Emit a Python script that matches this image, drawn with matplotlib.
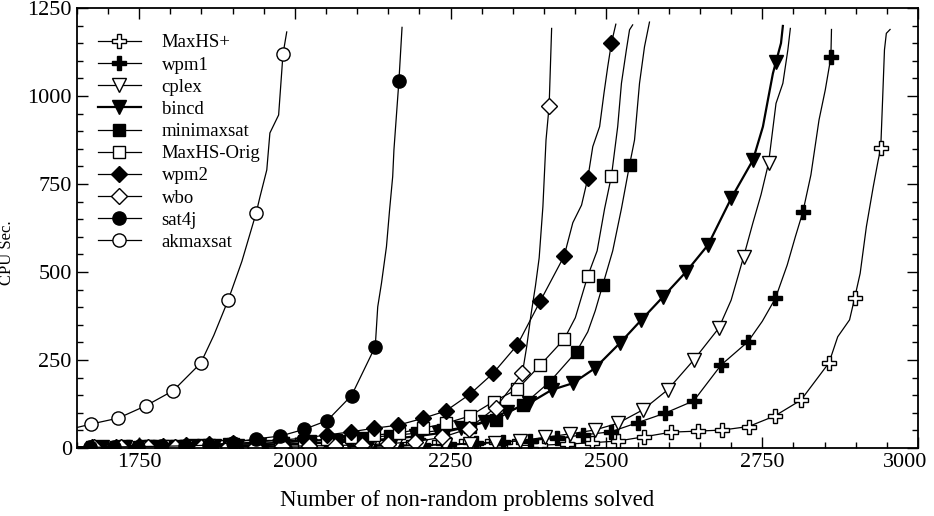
import matplotlib
matplotlib.use("Agg")
from matplotlib import pyplot as plt
from matplotlib.ticker import MultipleLocator, FixedLocator, FixedFormatter
import numpy as np

plt.rcParams['font.family'] = ['Liberation Serif', 'DejaVu Serif']

# ---- data (marker points + extra line points) ----
maxhsp_mx = [1671, 1714, 1756, 1799, 1841, 1884, 1926, 1969, 2011, 2054, 2096, 2139, 2181, 2224,
             2266, 2309, 2351, 2394, 2437, 2477, 2519, 2561, 2604, 2647, 2686, 2728, 2770, 2812,
             2857, 2898, 2940]
maxhsp_my = [0.5, 0.5, 1, 1, 1, 1, 1, 1, 2, 2, 2, 3, 3, 4, 5, 6, 7, 8, 11, 15, 20, 32, 45, 48, 51,
             61, 91, 136, 242, 425, 851]
maxhsp_lx = [1650, 2871, 2890, 2907, 2917, 2928, 2936, 2943, 2946, 2949, 2955]
maxhsp_ly = [0.5, 316, 364, 496, 629, 742, 818, 989, 1131, 1178, 1189]

wpm1_mx = [1689, 1732, 1775, 1818, 1861, 1904, 1947, 1990, 2033, 2076, 2119, 2162, 2205, 2248,
           2291, 2334, 2377, 2421, 2462, 2507, 2550, 2594, 2640, 2684, 2727, 2771, 2815, 2860]
wpm1_my = [1, 2, 2, 2, 3, 3, 4, 4, 5, 6, 7, 8, 9, 11, 14, 18, 21, 28, 37, 46, 72, 99, 134, 236,
           302, 425, 670, 1110]
wpm1_lx = [1650, 2750, 2790, 2803, 2828, 2841, 2851, 2861]
wpm1_ly = [1, 360, 520, 600, 776, 932, 1017, 1189]

cplex_mx = [1681, 1721, 1761, 1801, 1841, 1881, 1921, 1961, 2001, 2041, 2081, 2121, 2161, 2201,
            2241, 2281, 2321, 2361, 2401, 2441, 2481, 2518, 2558, 2598, 2640, 2680, 2720, 2760]
cplex_my = [1, 1, 1, 1, 1, 2, 2, 2, 3, 3, 4, 5, 6, 7, 9, 11, 15, 21, 30, 40, 51, 70, 108, 165,
            250, 340, 543, 809]
cplex_lx = [1650, 2700, 2735, 2748, 2766, 2772, 2783, 2791, 2795]
cplex_ly = [1, 420, 640, 720, 894, 979, 1036, 1131, 1192]

bincd_mx = [1691, 1727, 1763, 1799, 1835, 1871, 1907, 1943, 1979, 2015, 2051, 2087, 2123, 2159,
            2195, 2231, 2267, 2305, 2340, 2376, 2412, 2446, 2481, 2521, 2556, 2591, 2628, 2663,
            2700, 2735, 2772]
bincd_my = [2, 3, 3, 4, 5, 6, 7, 8, 10, 12, 15, 18, 22, 27, 33, 42, 56, 75, 103, 127, 165, 184,
            226, 297, 364, 430, 501, 577, 709, 818, 1097]
bincd_lx = [1650, 2751, 2759, 2767, 2780, 2783]
bincd_ly = [2, 913, 989, 1064, 1150, 1199]

minimax_mx = [1681, 1724, 1767, 1809, 1852, 1895, 1938, 1981, 2024, 2066, 2109, 2152, 2196, 2238,
              2281, 2322, 2366, 2409, 2452, 2494, 2537]
minimax_my = [3, 4, 5, 6, 8, 10, 12, 15, 19, 23, 28, 35, 42, 51, 61, 80, 122, 188, 274, 463, 804]
minimax_lx = [1650, 2470, 2482, 2510, 2524, 2545, 2553, 2561, 2569]
minimax_ly = [3, 330, 390, 560, 680, 875, 1036, 1140, 1210]

orig_mx = [1675, 1713, 1750, 1788, 1826, 1863, 1901, 1939, 1976, 2014, 2052, 2090, 2127, 2167,
           2205, 2242, 2281, 2319, 2357, 2394, 2432, 2470, 2508]
orig_my = [2, 3, 4, 5, 7, 9, 11, 13, 16, 20, 25, 32, 37, 42, 56, 70, 91, 132, 167, 236, 309, 489,
           773]
orig_lx = [1650, 2450, 2485, 2497, 2518, 2524, 2532, 2537, 2542]
orig_ly = [2, 370, 560, 680, 913, 1036, 1132, 1188, 1202]

wpm2_mx = [1675, 1713, 1750, 1788, 1826, 1863, 1901, 1939, 1976, 2014, 2052, 2090, 2127, 2166,
           2205, 2242, 2281, 2318, 2357, 2394, 2432, 2470, 2508]
wpm2_my = [3, 4, 5, 6, 8, 10, 13, 17, 22, 28, 37, 46, 56, 65, 84, 105, 153, 212, 293, 418, 545,
           766, 1151]
wpm2_lx = [1650, 2446, 2460, 2478, 2489, 2496, 2502, 2515]
wpm2_ly = [3, 640, 690, 856, 913, 1008, 1083, 1204]

wbo_mx = [1678, 1721, 1764, 1807, 1850, 1893, 1936, 1979, 2022, 2064, 2107, 2150, 2193, 2236,
          2279, 2322, 2365, 2408]
wbo_my = [2, 2, 3, 3, 3, 4, 4, 5, 6, 7, 9, 12, 18, 30, 55, 115, 212, 972]
wbo_lx = [1650, 2372, 2379, 2386, 2392, 2398, 2403, 2412]
wbo_ly = [2, 288, 380, 460, 540, 686, 875, 1192]

sat4j_mx = [1671, 1710, 1748, 1785, 1824, 1862, 1900, 1938, 1977, 2015, 2052, 2091, 2129, 2167]
sat4j_my = [2, 3, 4, 5, 6, 8, 15, 26, 34, 53, 78, 149, 288, 1043]
sat4j_lx = [1650, 2133, 2139, 2147, 2152, 2157, 2159, 2172]
sat4j_ly = [2, 401, 468, 572, 676, 771, 847, 1195]

akmax_mx = [1673, 1717, 1761, 1805, 1849, 1893, 1938, 1981]
akmax_my = [68, 85, 120, 163, 241, 420, 668, 1119]
akmax_lx = [1650, 1870, 1915, 1944, 1955, 1960, 1974, 1987]
akmax_ly = [58, 320, 530, 713, 790, 895, 946, 1182]

labels = ["MaxHS+", "wpm1", "cplex", "bincd", "minimaxsat", "MaxHS-Orig", "wpm2", "wbo",
          "sat4j", "akmaxsat"]
series = [
    (maxhsp_mx, maxhsp_my, maxhsp_lx, maxhsp_ly),
    (wpm1_mx, wpm1_my, wpm1_lx, wpm1_ly),
    (cplex_mx, cplex_my, cplex_lx, cplex_ly),
    (bincd_mx, bincd_my, bincd_lx, bincd_ly),
    (minimax_mx, minimax_my, minimax_lx, minimax_ly),
    (orig_mx, orig_my, orig_lx, orig_ly),
    (wpm2_mx, wpm2_my, wpm2_lx, wpm2_ly),
    (wbo_mx, wbo_my, wbo_lx, wbo_ly),
    (sat4j_mx, sat4j_my, sat4j_lx, sat4j_ly),
    (akmax_mx, akmax_my, akmax_lx, akmax_ly),
]

x_ticks = [1750, 2000, 2250, 2500, 2750, 3000]

# marker, facecolor, size
styles = [
    ('P', 'white', 10),
    ('P', 'black', 10),
    ('v', 'white', 10),
    ('v', 'black', 10),
    ('s', 'black', 9),
    ('s', 'white', 9),
    ('D', 'black', 8.5),
    ('D', 'white', 8.5),
    ('o', 'black', 9.5),
    ('o', 'white', 9.5),
]

fig = plt.figure(figsize=(9.34, 5.16), dpi=100)
ax = fig.add_axes([0.0821, 0.1318, 0.9009, 0.8527])

for lab, (mx, my, lx, ly), (mk, fc, ms) in zip(labels, series, styles):
    x = np.concatenate([mx, lx])
    y = np.concatenate([my, ly])
    is_mark = np.concatenate([np.ones(len(mx), bool), np.zeros(len(lx), bool)])
    order = np.argsort(x, kind='stable')
    lw = 1.6 if lab == "bincd" else 0.9
    ax.plot(x[order], y[order], color='black', lw=lw, marker=mk, markersize=ms,
            markerfacecolor=fc, markeredgecolor='black', markeredgewidth=1.0,
            markevery=list(is_mark[order]), label=lab)

ax.set_xlim(1650, 3000)
ax.set_ylim(0, 1250)
# last x label is drawn by hand a bit to the left, like in the original
ax.xaxis.set_major_locator(FixedLocator(x_ticks))
ax.xaxis.set_major_formatter(FixedFormatter([str(t) for t in x_ticks[:-1]] + [""]))
ax.annotate(str(x_ticks[-1]), xy=(x_ticks[-1], 0), xycoords=('data', 'axes fraction'),
            xytext=(-9.5, -3.5), textcoords='offset points', ha='center', va='top', fontsize=16)
ax.xaxis.set_minor_locator(MultipleLocator(50))
ax.yaxis.set_major_locator(MultipleLocator(250))
ax.yaxis.set_minor_locator(MultipleLocator(50))
ax.tick_params(which='both', direction='in', top=True, right=True, labelsize=16, width=1.0)
ax.tick_params(which='major', length=8)
ax.tick_params(which='minor', length=4)
for sp in ax.spines.values():
    sp.set_linewidth(1.3)

ax.set_xlabel("Number of non-random problems solved", fontsize=16.5, labelpad=10)
ax.xaxis.set_label_coords(0.464, -0.095)
ax.set_ylabel("CPU Sec.", fontsize=12)
ax.yaxis.set_label_coords(-0.073, 0.443)

ax.legend(loc='upper left', bbox_to_anchor=(-0.006, 1.0), frameon=False, fontsize=13.5,
          handlelength=2.3, handletextpad=1.1, labelspacing=0.27, numpoints=1, borderaxespad=1.0)

fig.savefig("out.png", dpi=100)
